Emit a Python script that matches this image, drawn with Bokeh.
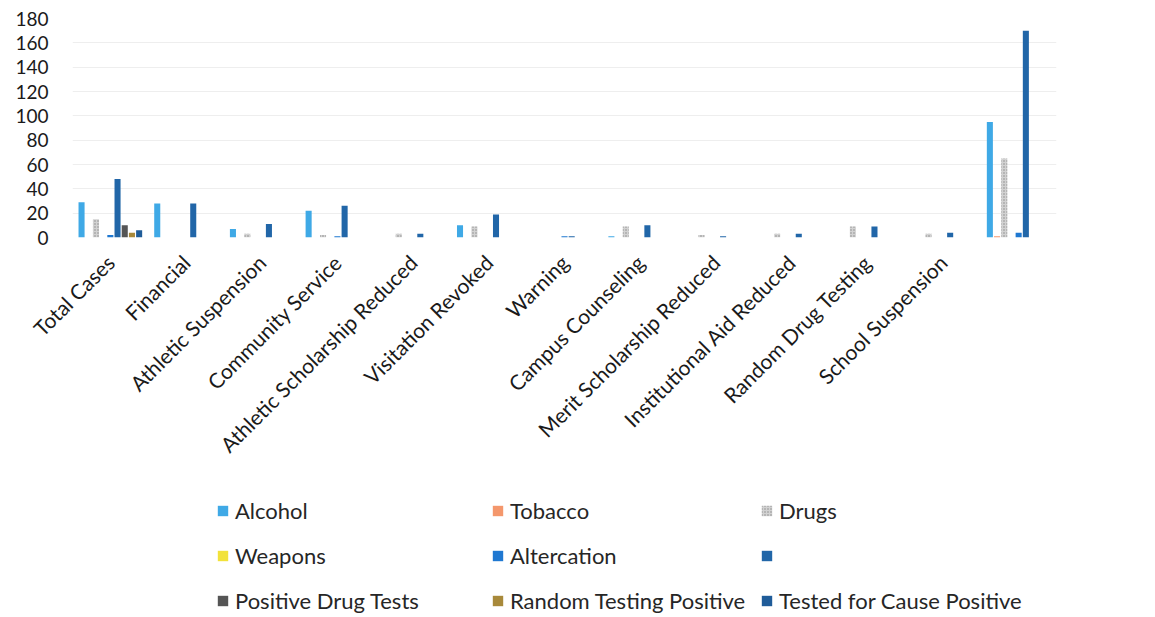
import math
from bokeh.plotting import figure
from bokeh.layouts import column
from bokeh.models import FactorRange, Range1d, FixedTicker, Legend, LegendItem
from bokeh.transform import dodge
from bokeh.embed import file_html
from bokeh.resources import INLINE

categories = ["Total Cases", "Financial", "Athletic Suspension", "Community Service",
              "Athletic Scholarship Reduced", "Visitation Revoked", "Warning",
              "Campus Counseling", "Merit Scholarship Reduced", "Institutional Aid Reduced",
              "Random Drug Testing", "School Suspension", " "]

series_names = ["Alcohol", "Tobacco", "Drugs", "Weapons", "Altercation", " ",
                "Positive Drug Tests", "Random Testing Positive", "Tested for Cause Positive"]

alcohol     = [29, 28, 7, 22, 0, 10, 0, 1, 0, 0, 0, 0, 95]
tobacco     = [0, 0, 0, 0, 0, 0, 0, 0, 0, 0, 0, 0, 1]
drugs       = [15, 0, 3, 2, 3, 9, 0, 9, 2, 3, 9, 3, 65]
weapons     = [0, 0, 0, 0, 0, 0, 0, 0, 0, 0, 0, 0, 0]
altercation = [2, 0, 0, 1, 0, 0, 1, 0, 0, 0, 0, 0, 4]
unnamed     = [48, 28, 11, 26, 3, 19, 1, 10, 1, 3, 9, 4, 170]
positive_drug_tests = [10, 0, 0, 0, 0, 0, 0, 0, 0, 0, 0, 0, 0]
random_testing_pos  = [4, 0, 0, 0, 0, 0, 0, 0, 0, 0, 0, 0, 0]
tested_for_cause    = [6, 0, 0, 0, 0, 0, 0, 0, 0, 0, 0, 0, 0]

y_ticks = [0, 20, 40, 60, 80, 100, 120, 140, 160, 180]

values = [alcohol, tobacco, drugs, weapons, altercation, unnamed,
          positive_drug_tests, random_testing_pos, tested_for_cause]
colors = ["#3FA9E6", "#F4976C", "#D2D2D2", "#F2E23A", "#1F78D1", "#2166A8",
          "#555555", "#A8893A", "#1F5C99"]

FONT = "Lato"

p = figure(width=1139, height=480, x_range=FactorRange(*categories),
           y_range=Range1d(0, 180), output_backend="svg", toolbar_location=None,
           min_border_left=72, min_border_right=83, min_border_top=18,
           min_border_bottom=243)
p.outline_line_color = None
p.xgrid.grid_line_color = None
p.ygrid.grid_line_color = "#eeeeee"
p.yaxis.ticker = FixedTicker(ticks=y_ticks)

for ax in (p.xaxis, p.yaxis):
    ax.axis_line_color = None
    ax.major_tick_line_color = None
    ax.minor_tick_line_color = None
    ax.major_label_text_font = FONT
    ax.major_label_text_color = "#1a1a1a"
p.yaxis.major_label_text_font_size = "19px"
p.xaxis.major_label_text_font_size = "21px"
p.yaxis.major_label_standoff = 18
p.xaxis.major_label_orientation = math.pi / 4
p.xaxis.major_label_standoff = 15

data = {"cat": categories}
for i, v in enumerate(values):
    data["s%d" % i] = v

step = 0.0951


def hatch_kw(i):
    if i == 2:
        return dict(hatch_pattern="dot", hatch_color="#8a8a8a", hatch_scale=3, hatch_weight=1)
    return {}


for i, col in enumerate(colors):
    p.vbar(x=dodge("cat", (i - 4) * step, range=p.x_range), top="s%d" % i,
           width=0.08, source=data, fill_color=col, line_color=None, **hatch_kw(i))

# legend panel below the chart (its frame is aligned with the chart's frame)
lf = figure(width=1139, height=136, x_range=Range1d(0, 1), y_range=Range1d(0, 1),
            x_axis_type=None, y_axis_type=None, output_backend="svg",
            toolbar_location=None, min_border=0)
lf.outline_line_color = None
lf.grid.visible = False
proxies = []
for i, col in enumerate(colors):
    proxies.append(lf.vbar(x=[0.5], top=[0], width=0.01, fill_color=col, line_color=None,
                           **hatch_kw(i)))

col_x = [144, 419, 688]
for c in range(3):
    items = [LegendItem(label=series_names[c + 3 * r], renderers=[proxies[c + 3 * r]])
             for r in range(3)]
    lg = Legend(items=items, location=(col_x[c], 2), orientation="vertical",
                glyph_width=13, glyph_height=13, label_standoff=6, label_height=27,
                spacing=18, padding=0, margin=0, border_line_color=None,
                background_fill_alpha=0, label_text_font=FONT,
                label_text_font_size="22px", label_text_color="#262626")
    lf.add_layout(lg, "center")

layout = column(p, lf, spacing=0)
open("out.html", "w").write(file_html(layout, INLINE))
